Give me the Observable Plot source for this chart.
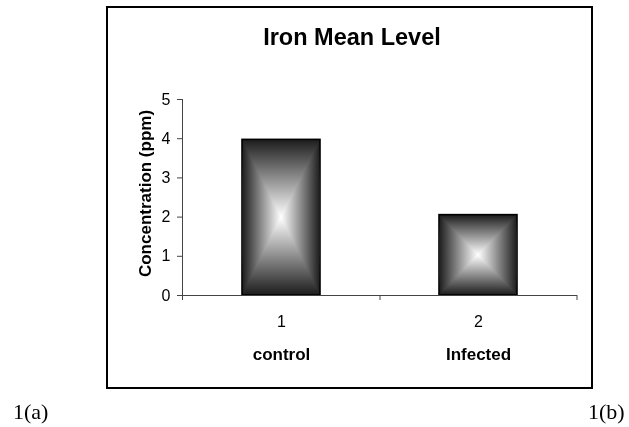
<!DOCTYPE html>
<html>
<head>
<meta charset="utf-8">
<script src="https://cdn.jsdelivr.net/npm/d3@7"></script>
<script src="https://cdn.jsdelivr.net/npm/@observablehq/plot@0.6"></script>
<style>
  html, body { margin: 0; padding: 0; background: #fff; }
  #wrap { position: relative; width: 629px; height: 427px; overflow: hidden; font-family: "Liberation Sans", Arial, sans-serif; }
  #wrap svg { position: absolute; left: 0; top: 0; }
  #box { position: absolute; left: 106px; top: 6px; width: 487px; height: 383px; box-sizing: border-box; border: 2px solid #000; }
  #title { position: absolute; left: 106px; width: 492px; top: 24px; text-align: center; font: bold 23.5px "Liberation Sans", Arial, sans-serif; color: #000; }
  .fig { position: absolute; top: 399px; font: 22px "Liberation Serif", "Times New Roman", serif; color: #000; }
</style>
</head>
<body>
<div id="wrap">
  <div id="box"></div>
  <div id="title">Iron Mean Level</div>
  <div class="fig" style="left:13px">1(a)</div>
  <div class="fig" style="left:588px">1(b)</div>
</div>
<script>
const groups = ["1", "2"];
const names = ["control", "Infected"];
const values = [3.97, 2.05];
const yTicks = [0, 1, 2, 3, 4, 5];
const yLabel = "Concentration (ppm)";

const data = groups.map((g, i) => ({group: g, name: names[i], value: values[i]}));
const nameOf = Object.fromEntries(groups.map((g, i) => [g, names[i]]));

const padIn = 0.605;
const padOut = padIn / 2;
const axisColor = "#444";

const chart = Plot.plot({
  width: 629,
  height: 427,
  marginLeft: 182,
  marginRight: 52,
  marginTop: 99,
  marginBottom: 132,
  style: {fontFamily: "'Liberation Sans', Arial, sans-serif", fontSize: "16px", background: "transparent", color: "#000"},
  x: {domain: groups, paddingInner: padIn, paddingOuter: padOut, axis: null},
  y: {domain: [0, 5], axis: null},
  marks: [
    // horizontal gradient layer
    Plot.barY(data, {x: "group", y: "value", fill: "url(#gradH)"}),
    // vertical gradient layer blended with darken -> rectangular gradient
    Plot.barY(data, {x: "group", y: "value", fill: "url(#gradV)", stroke: "#000", strokeWidth: 1.6, mixBlendMode: "darken"}),
    Plot.axisY({ticks: yTicks, tickFormat: d => String(d), tickSize: 5, tickPadding: 7, fontSize: 16, stroke: axisColor, label: null}),
    Plot.axisX({tickSize: 0, tickPadding: 20, fontSize: 16, label: null}),
    Plot.axisX({tickSize: 0, tickPadding: 52, fontSize: 17, fontWeight: "bold", tickFormat: d => nameOf[d], label: null}),
    Plot.text([yLabel], {frameAnchor: "left", rotate: -90, dx: -37, dy: -4, fontSize: 17, fontWeight: "bold", text: d => d, textAnchor: "middle"})
  ]
});

const svg = d3.select(chart);

// gradient definitions
const defs = svg.insert("defs", ":first-child");
const gh = defs.append("linearGradient").attr("id", "gradH").attr("x1", 0).attr("x2", 1).attr("y1", 0).attr("y2", 0);
const gv = defs.append("linearGradient").attr("id", "gradV").attr("x1", 0).attr("x2", 0).attr("y1", 0).attr("y2", 1);
[[0, "#1c1c1c"], [0.5, "#ffffff"], [1, "#1c1c1c"]].forEach(([o, c]) => {
  gh.append("stop").attr("offset", o).attr("stop-color", c);
  gv.append("stop").attr("offset", o).attr("stop-color", c);
});

// axis lines and Excel-style category boundary ticks, from the chart's scales
const xs = chart.scale("x");
const ys = chart.scale("y");
const xLeft = xs.range[0];
const xRight = xs.range[1];
const yZero = ys.apply(0);
const yTop = ys.apply(d3.max(yTicks));
const g = svg.append("g").attr("stroke", axisColor).attr("fill", "none");
g.append("line").attr("x1", xLeft + 0.5).attr("x2", xLeft + 0.5).attr("y1", yTop).attr("y2", yZero);
g.append("line").attr("x1", xLeft).attr("x2", xRight).attr("y1", yZero + 0.5).attr("y2", yZero + 0.5);
const bounds = [xLeft, ...groups.map(k => xs.apply(k) + xs.bandwidth / 2 + xs.step / 2)];
bounds.forEach(b => g.append("line").attr("x1", b + 0.5).attr("x2", b + 0.5).attr("y1", yZero).attr("y2", yZero + 5));

document.getElementById("wrap").prepend(chart);
</script>
</body>
</html>
